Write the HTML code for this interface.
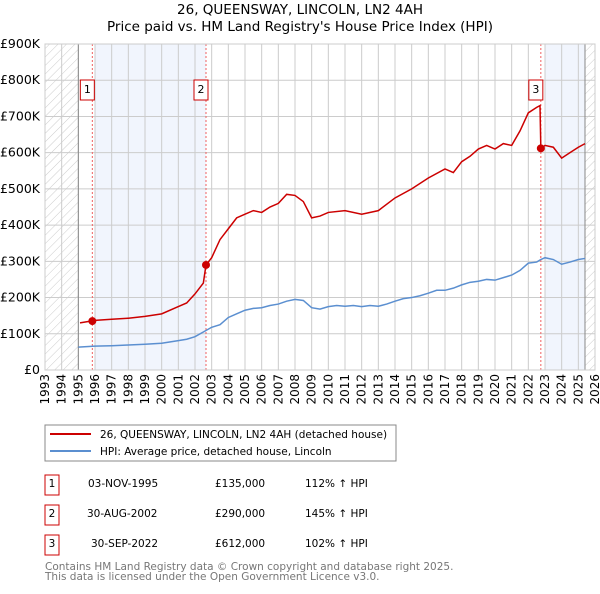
<!DOCTYPE html>
<html><head><meta charset="utf-8"><style>
body{margin:0;background:#fff;font-family:"DejaVu Sans","Liberation Sans",sans-serif;}
svg text{font-family:"DejaVu Sans","Liberation Sans",sans-serif;}
</style></head><body>
<svg id="c" width="600" height="590" xmlns="http://www.w3.org/2000/svg">
<defs><pattern id="hatch" patternUnits="userSpaceOnUse" width="6" height="6" patternTransform="rotate(45)"><line x1="0" y1="0" x2="0" y2="6" stroke="#ccc" stroke-width="1"/></pattern></defs>
<text x="300" y="14" text-anchor="middle" font-size="13.5">26, QUEENSWAY, LINCOLN, LN2 4AH</text>
<text x="300" y="31" text-anchor="middle" font-size="13.5">Price paid vs. HM Land Registry's House Price Index (HPI)</text>
<g id="plot"></g>
<g>
<rect x="45" y="425" width="351" height="36" fill="#fff" stroke="#888"/>
<line x1="50" y1="434" x2="91" y2="434" stroke="#cc0000" stroke-width="2"/>
<text x="100" y="438" font-size="10.5">26, QUEENSWAY, LINCOLN, LN2 4AH (detached house)</text>
<line x1="50" y1="451" x2="91" y2="451" stroke="#5b8fd0" stroke-width="2"/>
<text x="100" y="455" font-size="10.5">HPI: Average price, detached house, Lincoln</text>
</g>
<g font-size="10.5">
<rect x="45" y="475" width="14" height="20" fill="#fff" stroke="#cc0000"/><text x="52" y="487" text-anchor="middle">1</text>
<text x="88" y="487">03-NOV-1995</text><text x="215" y="487">£135,000</text><text x="305" y="487">112% ↑ HPI</text>
<rect x="45" y="505" width="14" height="20" fill="#fff" stroke="#cc0000"/><text x="52" y="517" text-anchor="middle">2</text>
<text x="87" y="517">30-AUG-2002</text><text x="215" y="517">£290,000</text><text x="305" y="517">145% ↑ HPI</text>
<rect x="45" y="535" width="14" height="20" fill="#fff" stroke="#cc0000"/><text x="52" y="547" text-anchor="middle">3</text>
<text x="91" y="547">30-SEP-2022</text><text x="215" y="547">£612,000</text><text x="305" y="547">102% ↑ HPI</text>
</g>
<text x="45" y="570" font-size="10.5" fill="#777">Contains HM Land Registry data © Crown copyright and database right 2025.</text>
<text x="45" y="580" font-size="10.5" fill="#777">This data is licensed under the Open Government Licence v3.0.</text>
</svg>
<script>
const hpiYears=[1995,1996,1997,1998,1999,2000,2001,2001.5,2002,2002.5,2003,2003.5,2004,2004.5,2005,2005.5,2006,2006.5,2007,2007.5,2008,2008.5,2009,2009.5,2010,2010.5,2011,2011.5,2012,2012.5,2013,2013.5,2014,2014.5,2015,2015.5,2016,2016.5,2017,2017.5,2018,2018.5,2019,2019.5,2020,2020.5,2021,2021.5,2022,2022.5,2022.75,2023,2023.5,2024,2024.5,2025,2025.4];
const hpiValues=[63,66,67,69,71,74,81,85,92,105,118,125,145,155,165,170,172,178,182,190,195,192,172,168,175,178,176,178,175,178,176,182,190,197,200,205,212,220,220,226,235,242,245,250,248,255,262,275,295,298,305,310,305,292,298,305,308];
const priceYears=[1995.1,1996,1997,1998,1999,2000,2001,2001.5,2002,2002.5,2002.66,2003,2003.5,2004,2004.5,2005,2005.5,2006,2006.5,2007,2007.5,2008,2008.5,2009,2009.5,2010,2011,2012,2013,2014,2015,2016,2017,2017.5,2018,2018.5,2019,2019.5,2020,2020.5,2021,2021.5,2022,2022.5,2022.7,2022.75,2023,2023.5,2024,2024.5,2025,2025.4];
const priceValues=[130,137,140,143,148,155,175,185,210,240,290,310,360,390,420,430,440,435,450,460,485,482,465,420,425,435,440,430,440,475,500,530,555,545,575,590,610,620,610,625,620,660,710,725,730,612,620,615,585,600,615,625];
const saleYears=[1995.84,2002.66,2022.75];
const saleValues=[135,290,612];
const saleLabels=["1","2","3"];
const yTicks=[0,100,200,300,400,500,600,700,800,900];
const yTickLabels=["£0","£100K","£200K","£300K","£400K","£500K","£600K","£700K","£800K","£900K"];
const x0=1993,x1=2026,px0=45,px1=595,py0=370,py1=44,vmax=900;
const X=y=>px0+(y-x0)/(x1-x0)*(px1-px0);
const Y=v=>py0-v/vmax*(py0-py1);
const NS="http://www.w3.org/2000/svg";
const g=document.getElementById('plot');
function mk(t,a,p){const e=document.createElementNS(NS,t);for(const k in a)e.setAttribute(k,a[k]);(p||g).appendChild(e);return e;}
let e;
e=mk('rect',{x:X(1993),y:py1,width:X(1995)-X(1993),height:py0-py1,fill:'url(#hatch)'});


e=mk('rect',{x:X(2025.4),y:py1,width:X(2026)-X(2025.4),height:py0-py1,fill:'url(#hatch)'});


e=mk('rect',{x:X(1996),y:py1,width:X(2002.66)-X(1996),height:py0-py1,fill:'#eef3fc',opacity:0.8});


e=mk('rect',{x:X(2023),y:py1,width:X(2025.4)-X(2023),height:py0-py1,fill:'#eef3fc',opacity:0.8});


for(let yr=1993;yr<=2026;yr++){
 e=mk('line',{x1:X(yr),x2:X(yr),y1:py1,y2:py0,stroke:'#ccc','stroke-width':1});
 
 
 e=mk('text',{x:0,y:0,'font-size':12,'text-anchor':'end',transform:`translate(${X(yr)+4},374) rotate(-90)`});
 e.textContent=yr;
 
 
}
yTicks.forEach((v,i)=>{
 e=mk('line',{x1:px0,x2:px1,y1:Y(v),y2:Y(v),stroke:'#ccc','stroke-width':1});
 
 
 e=mk('text',{x:40,y:Y(v)+4,'font-size':12.5,'text-anchor':'end'});
 e.textContent=yTickLabels[i];
 
 
});
e=mk('line',{x1:X(1995),x2:X(1995),y1:py1,y2:py0,stroke:'#888'});


e=mk('line',{x1:X(2025.4),x2:X(2025.4),y1:py1,y2:py0,stroke:'#888'});


saleYears.forEach((s,i)=>{
 e=mk('line',{x1:X(s),x2:X(s),y1:py1,y2:py0,stroke:'#f06060','stroke-dasharray':'2,2'});
 
 
});
e=mk('polyline',{points:hpiYears.map((y,i)=>X(y)+','+Y(hpiValues[i])).join(' '),fill:'none',stroke:'#5b8fd0','stroke-width':1.5});


e=mk('polyline',{points:priceYears.map((y,i)=>X(y)+','+Y(priceValues[i])).join(' '),fill:'none',stroke:'#cc0000','stroke-width':1.5});


saleYears.forEach((s,i)=>{
 e=mk('circle',{cx:X(s),cy:Y(saleValues[i]),r:4,fill:'#cc0000'});
 
 
 e=mk('rect',{x:X(s)-12,y:80,width:14,height:20,fill:'#fff',stroke:'#cc0000'});
 
 
 e=mk('text',{x:X(s)-5,y:93,'font-size':11,'text-anchor':'middle'});
 e.textContent=saleLabels[i];
 
 
});
e=mk('rect',{x:px0,y:py1,width:px1-px0,height:py0-py1,fill:'none',stroke:'#ccc'});


</script>
</body></html>
